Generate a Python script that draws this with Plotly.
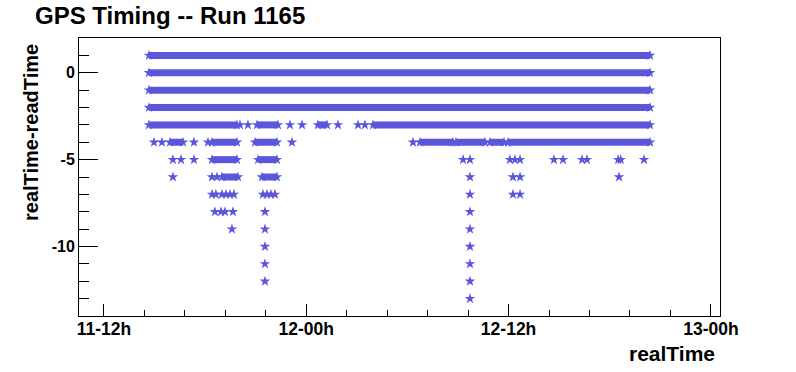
import plotly.graph_objects as go

# realTime expressed in hours since day 11, 00:00 ; y = realTime - readTime
x_tick_vals = [12, 24, 36, 48]
x_tick_text = ["11-12h", "12-00h", "12-12h", "13-00h"]
y_tick_vals = [0, -5, -10]
y_tick_text = ["0", "-5", "-10"]

# dense (continuous) stretches of entries: row value, start hour, end hour
seg_row = [1, 0, -1, -2,
           -3, -3, -3, -3,
           -4, -4, -4, -4, -4, -4, -4,
           -5, -5,
           -6, -6]
seg_start = [14.67, 14.67, 14.67, 14.67,
             14.67, 21.08, 24.69, 27.96,
             15.92, 18.41, 20.96, 30.75, 32.88, 34.90, 35.97,
             18.41, 21.14,
             19.00, 21.37]
seg_end = [44.39, 44.39, 44.39, 44.39,
           19.89, 22.32, 25.23, 44.39,
           16.69, 19.89, 22.26, 32.70, 34.60, 35.73, 44.39,
           19.89, 22.26,
           19.95, 22.26]

# isolated entries
pt_row = ([-3] * 7 + [-4] * 6 + [-5] * 15 + [-6] * 7 + [-7] * 13 + [-8] * 6
          + [-9] * 3 + [-10] * 2 + [-11] * 2 + [-12] * 2 + [-13])
pt_time = [20.07, 20.54, 23.03, 23.75, 25.88, 27.07, 27.48,
           14.97, 15.44, 17.34, 18.17, 23.15, 30.33,
           16.09, 16.57, 17.34, 33.30, 33.71, 36.08, 36.38, 36.68, 38.69, 39.23,
           40.36, 40.65, 42.50, 42.65, 44.03,
           16.09, 18.41, 18.70, 33.71, 36.26, 36.68, 42.55,
           18.41, 18.64, 19.00, 19.24, 19.48, 19.71, 21.43, 21.67, 21.90, 22.14,
           33.71, 36.26, 36.68,
           18.58, 18.94, 19.18, 19.65, 21.55, 33.71,
           19.59, 21.55, 33.71,
           21.55, 33.71,
           21.55, 33.71,
           21.55, 33.71,
           33.71]

COLOR = "rgb(91,87,219)"
FONT = "Liberation Sans, Arial, sans-serif"

seg_x, seg_y = [], []
end_x, end_y = [], []
for r, s, e in zip(seg_row, seg_start, seg_end):
    seg_x += [s, e, None]
    seg_y += [r, r, None]
    end_x += [s, e]
    end_y += [r, r]

fig = go.Figure()
fig.add_trace(go.Scatter(x=seg_x, y=seg_y, mode="lines",
                         line=dict(color=COLOR, width=7), hoverinfo="skip",
                         showlegend=False))
fig.add_trace(go.Scatter(x=end_x + pt_time, y=end_y + pt_row, mode="markers",
                         marker=dict(symbol="star", size=8, color=COLOR,
                                     line=dict(width=0)),
                         showlegend=False))

fig.update_layout(
    width=796, height=372,
    margin=dict(l=79, r=76, t=37.5, b=55.7),
    paper_bgcolor="white", plot_bgcolor="white",
    font=dict(family=FONT, color="black"),
    title=dict(text="GPS Timing -- Run 1165", x=35 / 796, xanchor="left",
               y=1 - 16 / 372, yanchor="middle",
               font=dict(family=FONT, size=24, weight="bold", color="black")),
    xaxis=dict(range=[10.52, 48.54], showgrid=False, zeroline=False,
               showline=True, linecolor="black", linewidth=1, mirror=True,
               tickmode="array", tickvals=x_tick_vals, ticktext=x_tick_text,
               ticks="inside", ticklen=12, tickcolor="black",
               ticklabelstandoff=-3,
               tickfont=dict(family=FONT, size=17.5, weight="bold"),
               minor=dict(tick0=12, dtick=2.4, ticks="inside", ticklen=6,
                          tickcolor="black", showgrid=False)),
    yaxis=dict(range=[-14, 2], showgrid=False, zeroline=False,
               showline=True, linecolor="black", linewidth=1, mirror=True,
               tickmode="array", tickvals=y_tick_vals, ticktext=y_tick_text,
               ticks="inside", ticklen=19, tickcolor="black",
               tickfont=dict(family=FONT, size=16, weight="bold"),
               minor=dict(tick0=0, dtick=1, ticks="inside", ticklen=10,
                          tickcolor="black", showgrid=False)),
    annotations=[
        dict(text="realTime-readTime", textangle=-90, showarrow=False,
             xref="paper", yref="paper", x=(31 - 79) / 641, xanchor="center",
             y=(316.3 - 42) / 278.8, yanchor="top",
             font=dict(family=FONT, size=20, weight="bold", color="black")),
        dict(text="realTime", showarrow=False,
             xref="paper", yref="paper", x=(717 - 79) / 641, xanchor="right",
             y=(316.3 - 354) / 278.8, yanchor="middle",
             font=dict(family=FONT, size=21, weight="bold", color="black")),
    ],
)

fig.write_html("out.html", config={"displayModeBar": False},
               post_script="document.body.style.margin='0';"
                           "document.body.style.overflow='hidden';")
